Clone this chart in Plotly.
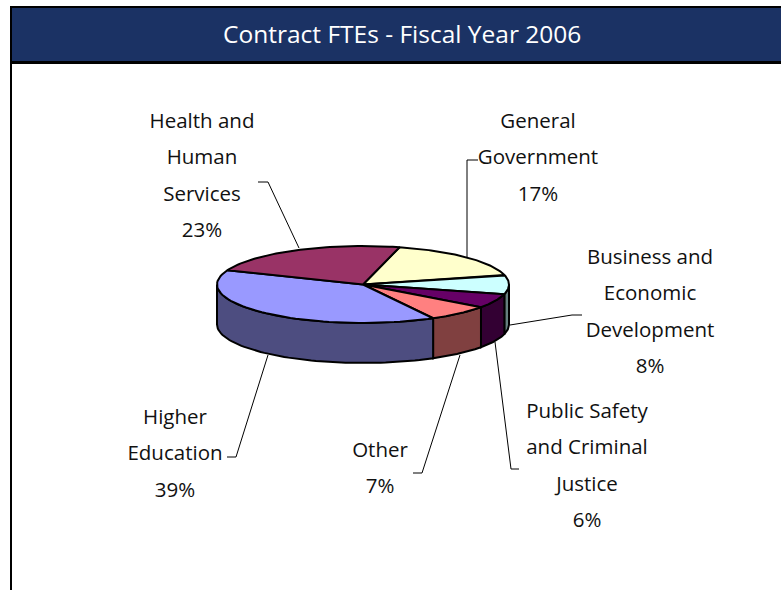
import math
import plotly.graph_objects as go

# Contract FTE shares, in drawing order (clockwise from the start angle)
categories = ["General Government", "Business and Economic Development",
              "Public Safety and Criminal Justice", "Other",
              "Higher Education", "Health and Human Services"]
shares = [17, 8, 6, 7, 39, 23]
top_colors = ["#FFFFCC", "#CCFFFF", "#660066", "#FF8080", "#9999FF", "#993366"]
wall_colors = ["#808066", "#668080", "#330033", "#804040", "#4D4D80", "#4D1A33"]

# Label lines, centre x and first-line y
label_lines = [["General", "Government"],
               ["Business and", "Economic", "Development"],
               ["Public Safety", "and Criminal", "Justice"],
               ["Other"],
               ["Higher", "Education"],
               ["Health and", "Human", "Services"]]
label_x = [538, 650, 587, 380, 175, 202]
label_y = [123, 259, 413, 452, 419, 123]
LINE_PITCH = 36.3

# Leader lines as (x, y) runs
leaders = [[(478, 160), (467, 160), (467, 258)],
           [(510, 325), (572, 315), (582, 315)],
           [(495, 342), (511, 469), (519, 469)],
           [(460, 355), (422, 473), (413, 473)],
           [(268, 355), (236, 457), (227, 457)],
           [(258, 182), (268, 182), (299, 248)]]

# Tilted disc geometry
CX, CY, RX, RY, DEPTH = 363, 284.5, 146, 38.5, 40
START = 75.5
FONT = "Open Sans"
EDGE = dict(color="black", width=2)


def rim(a, b, drop=0.0, steps=60):
    """Points along the disc rim from angle a to angle b (degrees)."""
    pts = [a + (b - a) * i / steps for i in range(steps + 1)]
    xs = [CX + RX * math.cos(math.radians(p)) for p in pts]
    ys = [CY - RY * math.sin(math.radians(p)) + drop for p in pts]
    return xs, ys


# Turn the shares into angular spans, running clockwise
spans = []
angle = START
for share in shares:
    end = angle - share / sum(shares) * 360
    spans.append((angle, end))
    angle = end

fig = go.Figure()

# Outer walls: only the part of the rim facing the viewer (0 to -180 degrees)
for name, (a, b), color in zip(categories, spans, wall_colors):
    lo, hi = max(b, -180), min(a, 0)
    if lo < hi:
        tx, ty = rim(hi, lo)
        bx, by = rim(lo, hi, DEPTH)
        fig.add_trace(go.Scatter(x=tx + bx + tx[:1], y=ty + by + ty[:1], mode="lines",
                                 fill="toself", fillcolor=color, line=EDGE,
                                 name=name + " wall", hoverinfo="skip"))

# Top faces
for name, (a, b), color, share in zip(categories, spans, top_colors, shares):
    x, y = rim(a, b)
    fig.add_trace(go.Scatter(x=[CX] + x + [CX], y=[CY] + y + [CY], mode="lines",
                             fill="toself", fillcolor=color, line=EDGE,
                             name=name, hovertemplate=f"{name}: {share}%<extra></extra>"))

# Leader lines
for run in leaders:
    fig.add_trace(go.Scatter(x=[p[0] for p in run], y=[p[1] for p in run], mode="lines",
                             line=dict(color="black", width=1), hoverinfo="skip"))

# Labels, one text element per line because of the wide line pitch
text_x, text_y, text_s = [], [], []
for lines, share, lx, ly in zip(label_lines, shares, label_x, label_y):
    for i, line in enumerate(lines + [f"{share}%"]):
        text_x.append(lx)
        text_y.append(ly + i * LINE_PITCH)
        text_s.append(line)
fig.add_trace(go.Scatter(x=text_x, y=text_y, text=text_s, mode="text", textposition="middle center",
                         textfont=dict(family=FONT, size=20.5, color="#111111"), hoverinfo="skip"))

fig.update_layout(
    width=781, height=590, margin=dict(l=0, r=0, t=0, b=0),
    paper_bgcolor="white", plot_bgcolor="white", showlegend=False,
    xaxis=dict(range=[0, 781], visible=False, fixedrange=True),
    yaxis=dict(range=[590, 0], visible=False, fixedrange=True),
    shapes=[
        # Title band and frame
        dict(type="rect", x0=10, x1=781, y0=6, y1=64, fillcolor="black", line_width=0, layer="below"),
        dict(type="rect", x0=12, x1=781, y0=8, y1=61, fillcolor="#1B3264", line_width=0, layer="below"),
        dict(type="rect", x0=10, x1=12, y0=6, y1=590, fillcolor="black", line_width=0, layer="below"),
    ],
    annotations=[dict(x=401.5, y=33, xref="x", yref="y", showarrow=False,
                      text="Contract FTEs - Fiscal Year 2006",
                      font=dict(family=FONT, size=24.5, color="white"))],
)

fig.write_html("out.html", config={"displayModeBar": False})
